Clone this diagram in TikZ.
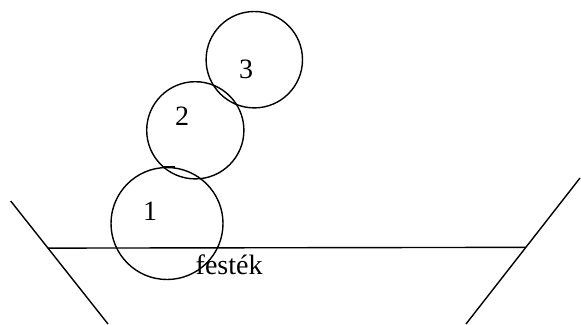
\documentclass[tikz,border=0pt]{standalone}
\usepackage{fontspec}
\setmainfont{Liberation Serif}
\usetikzlibrary{calc}
\begin{document}
\begin{tikzpicture}[x=1pt, y=-1pt, line width=1.4pt,
        ball/.style={circle, draw, inner sep=0pt},
        lbl/.style={inner sep=0pt, font=\fontsize{28}{32}\selectfont}]
        \useasboundingbox (0, 0) rectangle (581, 324);

        % Vessel walls and paint surface
        \coordinate (wl1) at (10.7, 201);
        \coordinate (wl2) at (108, 324);
        \coordinate (wr1) at (580, 178);
        \coordinate (wr2) at (466, 324);
        \draw (wl1) -- (wl2);
        \draw (wr1) -- (wr2);
        \draw ($(wl1)!0.383!(wl2)$) -- ($(wr1)!0.475!(wr2)$);
        \node[lbl, anchor=base west] (paint) at (195, 274) {festék};

        % Balls
        \foreach \n/\x/\y/\r in {1/167/223.5/56, 2/195.3/130.3/48.6, 3/254.3/59.7/48.2} {
            \node[ball, minimum size=2*\r pt] (c\n) at (\x, \y) {};
        }
        \draw (c1.north) ++(-3, 0) -- ++(11, 0);

        % Ball numbers
        \foreach \n/\x/\y in {1/150/211.5, 2/182/116, 3/246/69} {
            \node[lbl] (l\n) at (\x, \y) {\n};
        }
    \end{tikzpicture}
\end{document}
